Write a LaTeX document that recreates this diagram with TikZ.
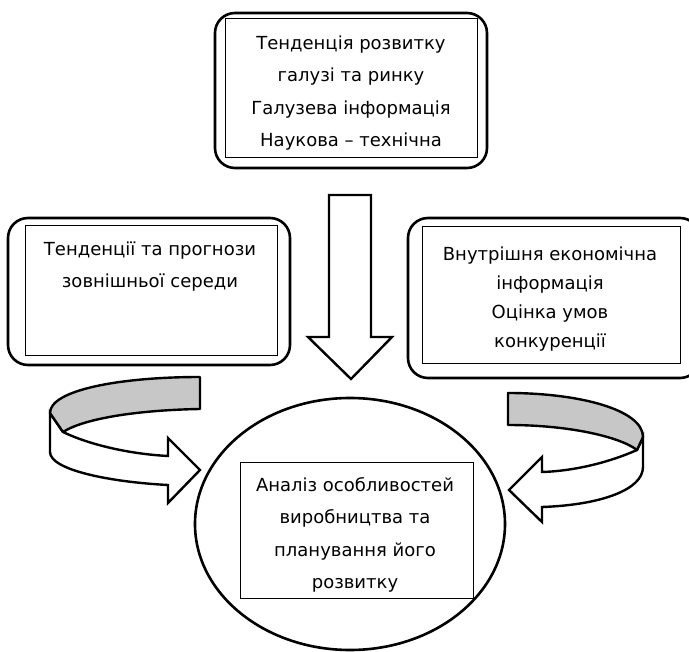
\documentclass[tikz,border=0pt]{standalone}
\usepackage{fontspec}
\setmainfont{DejaVu Sans}
\usetikzlibrary{shapes.geometric}
\tikzset{
  outerbox/.style={draw, line width=2.6pt, rounded corners=20pt},
  innerbox/.style={draw, line width=0.8pt},
  blockarrow/.style={draw, line width=2.4pt, line join=miter, fill=white},
  backside/.style={draw, line width=2.4pt, line join=round, fill=black!22},
  frontside/.style={draw, line width=2.4pt, line join=miter, fill=white},
  label/.style={align=center, font=\fontsize{18}{32}\selectfont, inner sep=0pt},
}
\begin{document}
\begin{tikzpicture}[x=1pt,y=-1pt]
\useasboundingbox (0,0) rectangle (689,652);
% top box
\draw[outerbox] (215,13) rectangle (487,168);
\node[innerbox, minimum width=252pt, minimum height=139pt, inner sep=0pt] (topin) at (351,87.5) {};
\node[label, font=\fontsize{18}{32.5}\selectfont] (topt) at (351,93) {Тенденція розвитку\\галузі та ринку\\Галузева інформація\\Наукова – технічна};
% left box
\draw[outerbox] (8,218) rectangle (290,365);
\node[innerbox, minimum width=252pt, minimum height=130pt, inner sep=0pt] (leftin) at (151,290) {};
\node[label] (leftt) at (150,267) {Тенденції та прогнози\\зовнішньої середи};
% right box
\draw[outerbox] (408,218) rectangle (700,378);
\node[innerbox, minimum width=258pt, minimum height=137pt, inner sep=0pt] (rightin) at (551,294.5) {};
\node[label, font=\fontsize{18}{29}\selectfont] (rightt) at (550,299) {Внутрішня економічна\\інформація\\Оцінка умов\\конкуренції};
% down block arrow
\draw[blockarrow] (329,195) -- (371,195) -- (371,337) -- (392,337) -- (351,379) -- (308,337) -- (329,337) -- cycle;
% ellipse
\node[draw, ellipse, line width=2.6pt, minimum width=310pt, minimum height=252pt, inner sep=0pt] (circ) at (350,524) {};
\node[innerbox, minimum width=233pt, minimum height=136pt, inner sep=0pt] (circin) at (356.5,530) {};
\node[label, font=\fontsize{18}{32.5}\selectfont] (circt) at (355,535) {Аналіз особливостей\\виробництва та\\планування його\\розвитку};
% left curved arrow
\draw[frontside] (50,413) -- (63,432) .. controls (90,445) and (130,454) .. (168,456) -- (168,438) -- (200,470) -- (168,503) -- (168,485) .. controls (110,482) and (50,470) .. (50,452) -- cycle;
\draw[backside] (200,377) .. controls (120,377) and (50,390) .. (50,413) -- (63,432) .. controls (85,418) and (140,410) .. (200,409) -- cycle;
% right curved arrow
\draw[frontside] (643,437) -- (637,450) .. controls (610,462) and (575,471) .. (542,472) -- (542,457) -- (509,490) -- (542,522) -- (542,507) .. controls (600,505) and (643,490) .. (643,467) -- cycle;
\draw[backside] (508,393) .. controls (580,393) and (643,410) .. (643,437) -- (637,450) .. controls (620,437) and (570,425) .. (508,425) -- cycle;
\end{tikzpicture}
\end{document}
